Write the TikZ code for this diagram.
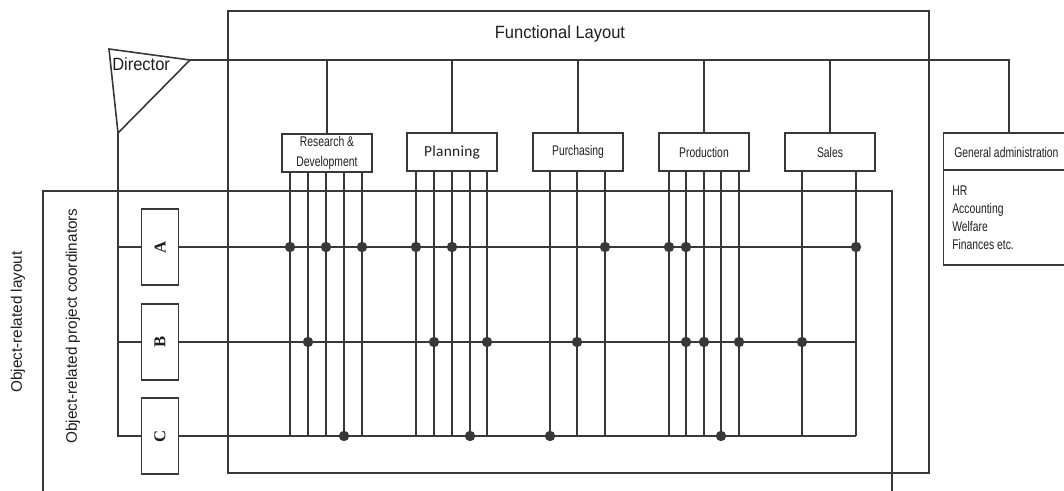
\documentclass[tikz,border=0pt]{standalone}
\usepackage{graphicx}
\usepackage{fontspec}
\setmainfont{Liberation Sans}
\newfontfamily\narrowf[FakeStretch=0.74]{Liberation Sans}
\newfontfamily\midf[FakeStretch=0.93]{Liberation Sans}
\newfontfamily\planf[LetterSpace=2]{Carlito}
\newfontfamily\serifb{Liberation Serif}
\definecolor{ln}{HTML}{383838}
\definecolor{tx}{HTML}{1E1E1E}
\begin{document}
\begin{tikzpicture}[x=0.75pt,y=-0.75pt,
  wire/.style={draw=ln, line width=1.2pt},
  every node/.style={text=tx},
  dept/.style={draw=ln, line width=1.2pt, minimum width=67.5pt, minimum height=28.5pt, inner sep=0pt, align=center, font=\narrowf\fontsize{10.5}{15}\selectfont},
  letterbox/.style={draw=ln, line width=1.2pt, minimum width=27.75pt, minimum height=57pt, inner sep=0pt, font=\serifb\bfseries\fontsize{12.5}{12.5}\selectfont},
  bigtext/.style={font=\midf\fontsize{13.3}{15}\selectfont, inner sep=0pt},
  sidetext/.style={rotate=90, font=\fontsize{11.5}{13}\selectfont, inner sep=0pt},
  smalltext/.style={font=\narrowf\fontsize{10.5}{13.5}\selectfont, inner sep=0pt, align=left}
]
\useasboundingbox (0,0) rectangle (1064,491);
\clip (0,0) rectangle (1064,491);

% frames
\draw[wire] (228,11) rectangle (929,473);
\node[bigtext] (FL) at (560,34) {Functional Layout};
\draw[wire] (43,495) -- (43,191) -- (892,191) -- (892,495);
\node[sidetext] (OL) at (18,322) {Object-related layout};
\node[sidetext] (OC) at (73,326) {Object-related project coordinators};

% director
\coordinate (d1) at (109,49);
\coordinate (d2) at (190,60);
\coordinate (d3) at (118,133);
\draw[wire, line join=miter] (d1) -- (d2) -- (d3) -- cycle;
\node[bigtext, anchor=west] (dir) at (112,64) {Director};

% departments
\node[dept] (RD) at (327,153) {Research \&\\Development};
\node[dept, font=\planf\fontsize{11.5}{13}\selectfont] (PL) at (452,152) {Planning};
\node[dept] (PU) at (578,152) {Purchasing};
\node[dept] (PR) at (704,152) {Production};
\node[dept] (SA) at (830,152) {Sales};

% general administration
\node[draw=ln, line width=1.2pt, minimum width=98.25pt, minimum height=99pt, inner sep=0pt] (GA) at (1009,199) {};
\draw[wire] (GA.west |- 0,170) -- (GA.east |- 0,170);
\node[smalltext, anchor=west] (GAh) at (954,152) {General administration};
\node[smalltext, anchor=north west] (GAl) at (952,186) {HR\\Accounting\\Welfare\\Finances etc.};

% bus
\coordinate (busend) at (1009,60);
\draw[wire] (d2) -- (busend) -- (GA.north);
\foreach \b in {RD,PL,PU,PR,SA}
  \draw[wire] (\b.north) -- (\b.north |- d2);

% object boxes
\node[letterbox] (A) at (160,247) {\rotatebox{90}{A}};
\node[letterbox] (B) at (160,342) {\rotatebox{90}{B}};
\node[letterbox] (C) at (160,436) {\rotatebox{90}{C}};
\draw[wire] (d3) -- (d3 |- C) -- (C.west);
\draw[wire] (d3 |- A) -- (A.west);
\draw[wire] (d3 |- B) -- (B.west);

\coordinate (rowend) at (856,0);
\foreach \r in {A,B,C}
  \draw[wire] (\r.east) -- (\r -| rowend);

% vertical lines
\foreach \x/\b in {290/RD,308/RD,326/RD,344/RD,362/RD,416/PL,434/PL,452/PL,470/PL,487/PL,550/PU,577/PU,605/PU,669/PR,686/PR,704/PR,721/PR,739/PR,802/SA,856/SA}
  \draw[wire] (\x,0 |- \b.south) -- (\x,0 |- C);

% dots
\foreach \x/\r in {290/A,326/A,362/A,416/A,452/A,605/A,669/A,686/A,856/A,308/B,434/B,487/B,577/B,686/B,704/B,739/B,802/B,344/C,470/C,550/C,721/C}
  \fill[ln] (\x,0 |- \r) circle (3.9pt);
\end{tikzpicture}
\end{document}
